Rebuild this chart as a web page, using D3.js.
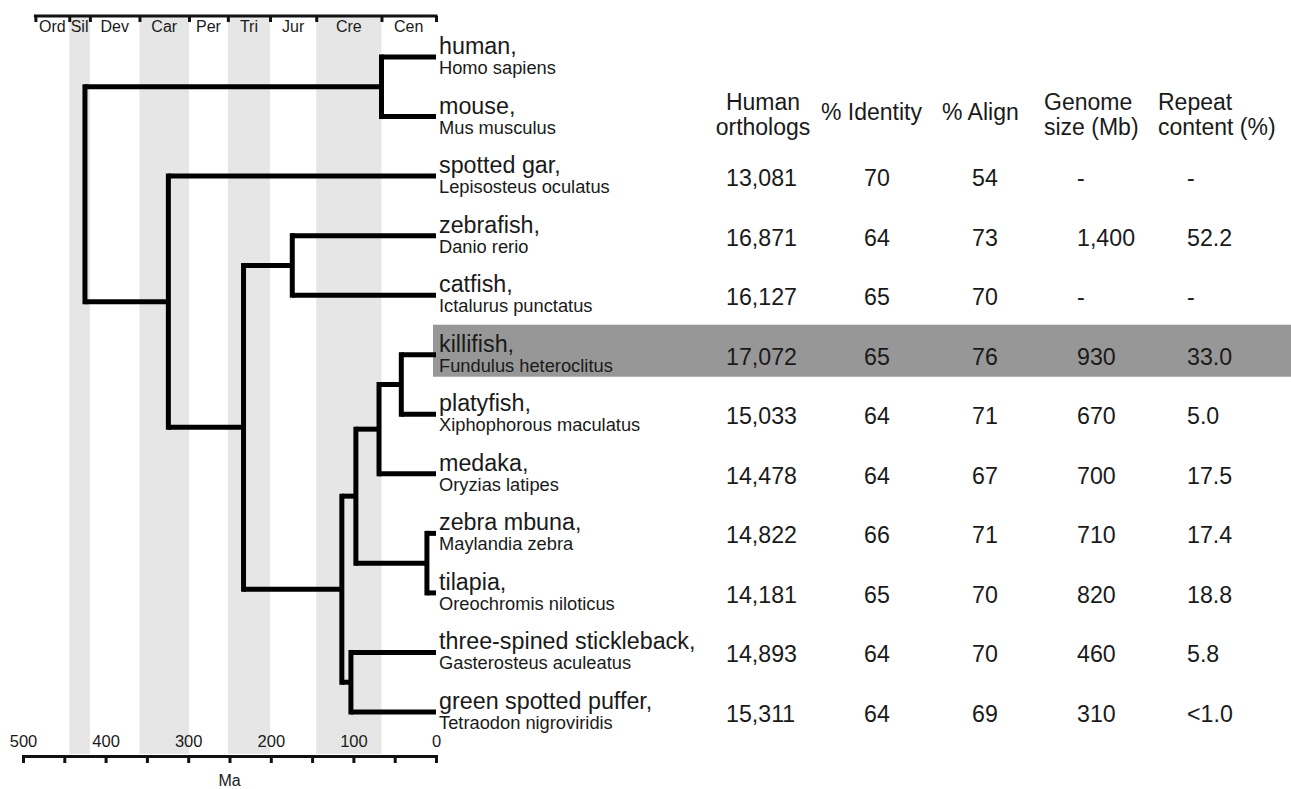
<!DOCTYPE html>
<html>
<head>
<meta charset="utf-8">
<script src="https://cdn.jsdelivr.net/npm/d3@7"></script>
<style>
  body { margin: 0; background: #fff; }
  svg text { font-family: "Liberation Sans", Arial, Helvetica, sans-serif; fill: #1a1a1a; }
</style>
</head>
<body>
<svg id="chart" width="1291" height="789"></svg>
<script>
// species, top to bottom
const commonNames = ["human", "mouse", "spotted gar", "zebrafish", "catfish", "killifish",
  "platyfish", "medaka", "zebra mbuna", "tilapia", "three-spined stickleback", "green spotted puffer"];
const latinNames = ["Homo sapiens", "Mus musculus", "Lepisosteus oculatus", "Danio rerio",
  "Ictalurus punctatus", "Fundulus heteroclitus", "Xiphophorous maculatus", "Oryzias latipes",
  "Maylandia zebra", "Oreochromis niloticus", "Gasterosteus aculeatus", "Tetraodon nigroviridis"];

// table columns (null = no row value)
const orthologs = [null, null, "13,081", "16,871", "16,127", "17,072", "15,033", "14,478", "14,822", "14,181", "14,893", "15,311"];
const identity = [null, null, "70", "64", "65", "65", "64", "64", "66", "65", "64", "64"];
const align = [null, null, "54", "73", "70", "76", "71", "67", "71", "70", "70", "69"];
const genomeSize = [null, null, "-", "1,400", "-", "930", "670", "700", "710", "820", "460", "310"];
const repeatContent = [null, null, "-", "52.2", "-", "33.0", "5.0", "17.5", "17.4", "18.8", "5.8", "<1.0"];
const headers = [["Human", "orthologs"], ["% Identity"], ["% Align"], ["Genome", "size (Mb)"], ["Repeat", "content (%)"]];
const highlighted = "killifish";

// geologic periods (start in Ma)
const periodNames = ["Ord", "Sil", "Dev", "Car", "Per", "Tri", "Jur", "Cre", "Cen"];
const periodStarts = [485, 444, 419, 359, 299, 252, 201, 145, 66];
const shadedPeriods = ["Sil", "Car", "Tri", "Cre"];
const axisTicks = d3.range(0, 501, 50);
const axisLabels = d3.range(0, 501, 100);

// divergence times (Ma), leaves point at the species index
const tree = {age: 425, children: [
  {age: 66, children: [{leaf: 0}, {leaf: 1}]},
  {age: 324, children: [
    {leaf: 2},
    {age: 233, children: [
      {age: 174, children: [{leaf: 3}, {leaf: 4}]},
      {age: 114, children: [
        {age: 97, children: [
          {age: 69, children: [
            {age: 42, children: [{leaf: 5}, {leaf: 6}]},
            {leaf: 7}]},
          {age: 11, children: [{leaf: 8}, {leaf: 9}]}]},
        {age: 103, children: [{leaf: 10}, {leaf: 11}]}]}]}]}]};

const svg = d3.select("#chart");

var x = d3.scaleLinear().domain([500, 0]).range([23, 436]);
var y = d3.scalePoint().domain(commonNames).range([57, 712]);

var barY = 16, axisY = 756;
var fontStack = "Liberation Sans, Arial, Helvetica, sans-serif";

// shaded period bands
var periodEnds = periodStarts.slice(1).concat([0]);
var periods = periodNames.map((name, i) => ({name: name, start: periodStarts[i], end: periodEnds[i]}));

svg.append("g").selectAll("rect")
  .data(periods.filter(p => shadedPeriods.includes(p.name)))
  .enter().append("rect")
  .attr("x", d => x(d.start))
  .attr("width", d => x(d.end) - x(d.start))
  .attr("y", barY)
  .attr("height", axisY - barY - 2)
  .attr("fill", "#e6e6e6");

// highlight row
svg.append("rect")
  .attr("x", x(0) - 3)
  .attr("y", y(highlighted) - 30)
  .attr("width", 1291 - x(0) + 3)
  .attr("height", 52)
  .attr("fill", "#979797");

// period bar on top
var periodAxis = d3.axisBottom(x)
  .tickValues(periodStarts.concat([0]))
  .tickSize(6)
  .tickSizeOuter(0)
  .tickFormat("");
var pg = svg.append("g").attr("transform", "translate(0," + barY + ")").call(periodAxis);
pg.select(".domain").attr("d", "M" + (x(periodStarts[0]) - 1.5) + ",0H" + (x(0) + 1.5));
pg.selectAll("path, line").attr("stroke", "#111").attr("stroke-width", 3);

svg.append("g").selectAll("text")
  .data(periods)
  .enter().append("text")
  .attr("x", d => (x(d.start) + x(d.end)) / 2)
  .attr("y", barY + 15.5)
  .attr("text-anchor", "middle")
  .style("font-size", "16px")
  .text(d => d.name);

// bottom time axis
var timeAxis = d3.axisBottom(x)
  .tickValues(axisTicks)
  .tickSize(7)
  .tickSizeOuter(7)
  .tickFormat("");
var tg = svg.append("g").attr("transform", "translate(0," + axisY + ")").call(timeAxis);
tg.selectAll("path, line").attr("stroke", "#111").attr("stroke-width", 3);

var labelAxis = d3.axisTop(x).tickValues(axisLabels).tickSize(0).tickPadding(9);
var lg = svg.append("g")
  .attr("transform", "translate(0," + axisY + ")")
  .call(labelAxis)
  .attr("font-size", 16.5)
  .attr("font-family", fontStack);
lg.select(".domain").remove();
lg.selectAll("text").attr("fill", "#1a1a1a");

svg.append("text")
  .attr("x", x(250))
  .attr("y", 786)
  .attr("text-anchor", "middle")
  .style("font-size", "16px")
  .text("Ma");

// tree
var root = d3.hierarchy(tree);
root.eachAfter(n => {
  if (n.data.leaf !== undefined) {
    n.px = x(0);
    n.py = y(commonNames[n.data.leaf]);
  } else {
    n.px = x(n.data.age);
    n.py = (n.children[0].py + n.children[n.children.length - 1].py) / 2;
  }
});

var lw = 5;
var treeG = svg.append("g").attr("fill", "none").attr("stroke", "#000").attr("stroke-width", lw);

treeG.selectAll(".stem")
  .data(root.descendants().filter(n => n.parent))
  .enter().append("path")
  .attr("class", "stem")
  .attr("d", n => "M" + n.parent.px + "," + n.py + "H" + n.px);

treeG.selectAll(".join")
  .data(root.descendants().filter(n => n.children))
  .enter().append("path")
  .attr("class", "join")
  .attr("d", n => "M" + n.px + "," + (n.children[0].py - lw / 2) + "V" + (n.children[n.children.length - 1].py + lw / 2));

// species labels
var labels = svg.append("g").selectAll("g")
  .data(commonNames)
  .enter().append("g")
  .attr("transform", d => "translate(" + (x(0) + 3) + "," + y(d) + ")");

labels.append("text")
  .attr("y", -3)
  .style("font-size", "23.3px")
  .text(d => d + ",");

labels.append("text")
  .attr("y", 17)
  .style("font-size", "18.3px")
  .text((d, i) => latinNames[i]);

// table
var colX = [726, 864, 972, 1077, 1187];
var headX = [[763, "middle"], [821, "start"], [942, "start"], [1044, "start"], [1158, "start"]];
var columns = [orthologs, identity, align, genomeSize, repeatContent];

headers.forEach((lines, c) => {
  var t = svg.append("text")
    .attr("x", headX[c][0])
    .attr("text-anchor", headX[c][1])
    .style("font-size", "23px");
  lines.forEach((line, k) => {
    t.append("tspan")
      .attr("x", headX[c][0])
      .attr("y", lines.length == 1 ? 120 : 110 + k * 25)
      .text(line);
  });
});

columns.forEach((col, c) => {
  svg.append("g").selectAll("text")
    .data(col.map((v, i) => ({v: v, name: commonNames[i]})).filter(d => d.v !== null))
    .enter().append("text")
    .attr("x", colX[c])
    .attr("y", d => y(d.name) + 10)
    .style("font-size", "23.2px")
    .text(d => d.v);
});
</script>
</body>
</html>
